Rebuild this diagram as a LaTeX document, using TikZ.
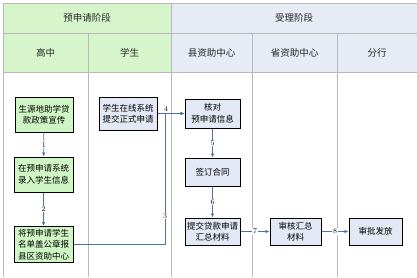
\documentclass[tikz,border=0pt]{standalone}
\usepackage{fontspec}
\newfontfamily\cjk{Noto Sans CJK SC}
\usetikzlibrary{arrows.meta}

\definecolor{kopfgruen}{RGB}{214,245,203}
\definecolor{kopfblau}{RGB}{231,235,245}
\definecolor{boxgruen}{RGB}{208,245,196}
\definecolor{boxblau}{RGB}{226,232,244}
\definecolor{pfeilblau}{RGB}{79,113,168}

\begin{document}
\begin{tikzpicture}[x=1pt, y=-1pt,
    linie/.style={draw=gray!55, line width=0.9pt},
    kopf/.style={font=\cjk\fontsize{9.5}{12}\selectfont, text=black!85},
    gruenbox/.style={draw=black, line width=1pt, fill=boxgruen, align=center,
        inner sep=1pt, font=\cjk\fontsize{8.5}{11.5}\selectfont},
    blaubox/.style={gruenbox, fill=boxblau},
    pfeil/.style={draw=pfeilblau, line width=0.7pt, -{Latex[length=4pt, width=3.5pt]}},
    nummer/.style={fill=white, inner sep=0.6pt, font=\fontsize{7.5}{8}\selectfont}
]

    % 1. Rahmen und Kopfzeilen
    \useasboundingbox (0,0) rectangle (417,277);
    \fill[kopfgruen] (3,3) rectangle (171,72);
    \fill[kopfblau] (171,3) rectangle (417,72);
    \draw[linie] (3,3) -- (417,3);
    \draw[linie] (3,33) -- (417,33);
    \draw[linie] (3,72) -- (417,72);
    \draw[linie] (3,3) -- (3,277);
    \draw[linie] (171,3) -- (171,277);
    \foreach \x in {88,252,337}
        \draw[linie] (\x,33) -- (\x,277);

    % 2. Beschriftung der Phasen und Bahnen
    \node[kopf] (vorphase) at (87,18) {预申请阶段};
    \node[kopf] (annahme) at (294,18) {受理阶段};
    \node[kopf] (gaozhong) at (45.5,52.5) {高中};
    \node[kopf] (xuesheng) at (129.5,52.5) {学生};
    \node[kopf] (kreis) at (211.5,52.5) {县资助中心};
    \node[kopf] (provinz) at (294.5,52.5) {省资助中心};
    \node[kopf] (bank) at (377,52.5) {分行};

    % 3. Prozessschritte
    \node[gruenbox, minimum width=58, minimum height=35] (xuanchuan) at (44,114.5) {生源地助学贷\\款政策宣传};
    \node[gruenbox, minimum width=59, minimum height=35] (luru) at (43.5,174.5) {在预申请系统\\录入学生信息};
    \node[gruenbox, minimum width=59, minimum height=36] (gongzhang) at (43.5,244.5) {将预申请学生\\名单盖公章报\\县区资助中心};
    \node[blaubox, minimum width=58, minimum height=33] (tijiao) at (128,113.5) {学生在线系统\\提交正式申请};
    \node[blaubox, minimum width=55, minimum height=29] (hedui) at (212.5,113.5) {核对\\预申请信息};
    \node[blaubox, minimum width=55, minimum height=28] (qianding) at (212.5,172) {签订合同};
    \node[blaubox, minimum width=55, minimum height=27] (huizong) at (212.5,231.5) {提交贷款申请\\汇总材料};
    \node[blaubox, minimum width=51, minimum height=27] (shenhe) at (295.5,231.5) {审核汇总\\材料};
    \node[blaubox, minimum width=53, minimum height=27] (fafang) at (375.5,231.5) {审批发放};

    % 4. Verbindungen mit Nummern
    \coordinate (knick) at (165,113.5);
    \draw[pfeil] (xuanchuan) -- (luru) node[nummer, midway] {1};
    \draw[pfeil] (luru) -- (gongzhang) node[nummer, midway] {2};
    \draw[pfeil] (gongzhang.east) -| (knick) node[nummer, pos=0.61] {3} -- (hedui.west);
    \draw[pfeil] (tijiao.east) -- (hedui.west) node[pos=0.32, above, inner sep=1.5pt, font=\fontsize{7.5}{8}\selectfont] {4};
    \draw[pfeil] (hedui) -- (qianding) node[nummer, midway] {5};
    \draw[pfeil] (qianding) -- (huizong) node[nummer, midway] {6};
    \draw[pfeil] (huizong) -- (shenhe) node[nummer, midway] {7};
    \draw[pfeil] (shenhe) -- (fafang) node[nummer, midway] {8};

\end{tikzpicture}
\end{document}
